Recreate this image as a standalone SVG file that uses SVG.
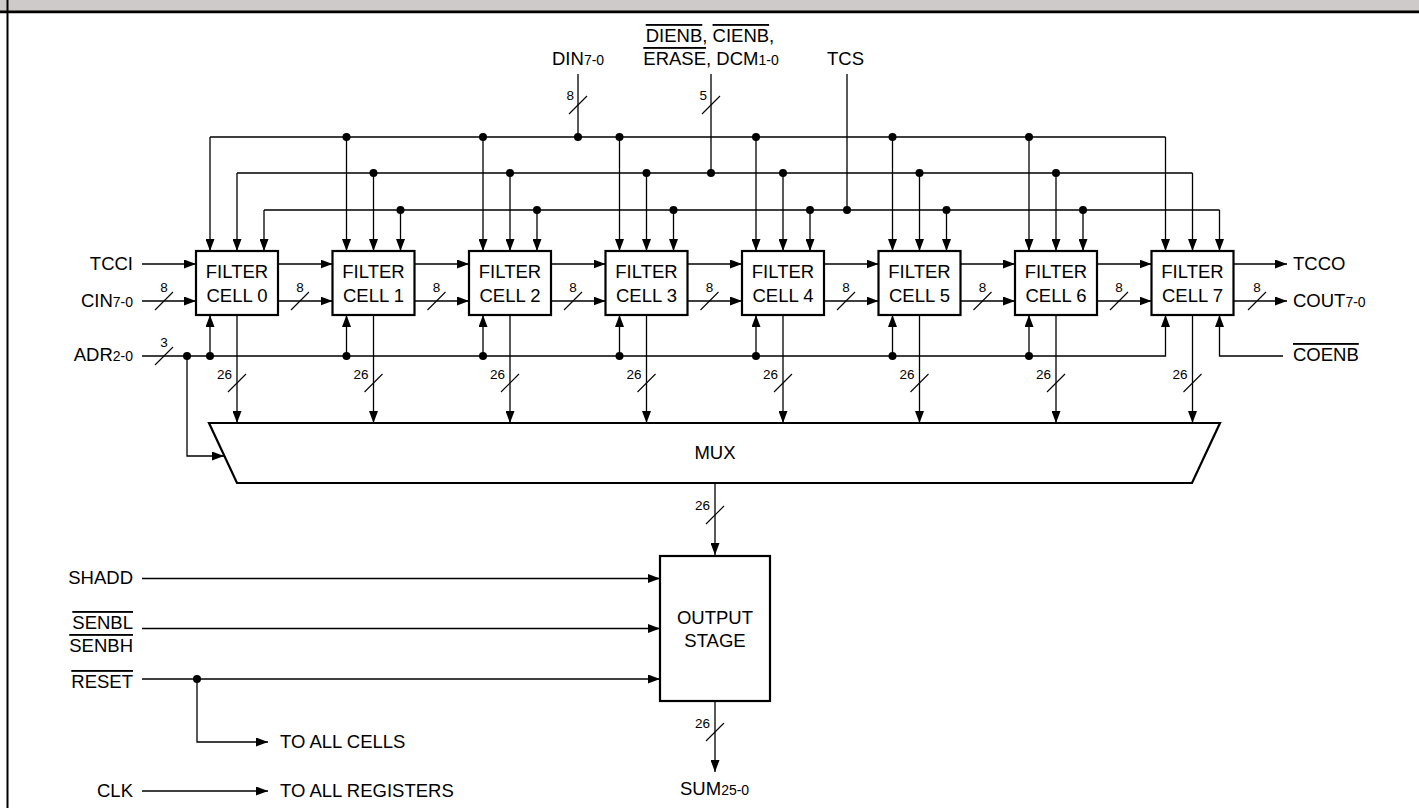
<svg xmlns="http://www.w3.org/2000/svg" width="1419" height="808" viewBox="0 0 1419 808">
<defs>
<marker id="ah" viewBox="0 0 12 9" markerWidth="12" markerHeight="9" refX="12" refY="4.5" orient="auto" markerUnits="userSpaceOnUse"><path d="M0,0 L12,4.5 L0,9 z" fill="#000"/></marker>
</defs>
<style>
text{font-family:"Liberation Sans",Arial,sans-serif;fill:#000}
.t{font-size:18.5px}
.s{font-size:14px}
.n{font-size:13.5px}
.c{text-anchor:middle}
.e{text-anchor:end}
.w{fill:none;stroke:#000;stroke-width:1.3}
.a{marker-end:url(#ah)}
.sl{stroke:#000;stroke-width:1.1}
.box{fill:#fff;stroke:#000;stroke-width:2.2}
.dot{fill:#000}
.ol{text-decoration:overline}
</style>
<rect x="0" y="0" width="1419" height="808" fill="#fff"/>
<g id="frame">
<rect x="0" y="0" width="1419" height="11" fill="#cdcac9"/>
<line x1="0" y1="11.8" x2="1419" y2="11.8" stroke="#000" stroke-width="2.8"/>
<line x1="7.5" y1="0" x2="7.5" y2="808" stroke="#000" stroke-width="2"/>
</g>
<g id="connectors">
<!-- top buses -->
<path class="w" d="M210,137 H1165.5 M237,173 H1192.5 M264,210 H1219.5"/>
<path class="w a" d="M210,137 V251"/><path class="w a" d="M346.5,137 V251"/><path class="w a" d="M483,137 V251"/><path class="w a" d="M619.5,137 V251"/><path class="w a" d="M756,137 V251"/><path class="w a" d="M892.5,137 V251"/><path class="w a" d="M1029,137 V251"/><path class="w a" d="M1165.5,137 V251"/>
<path class="w a" d="M237,173 V251"/><path class="w a" d="M373.5,173 V251"/><path class="w a" d="M510,173 V251"/><path class="w a" d="M646.5,173 V251"/><path class="w a" d="M783,173 V251"/><path class="w a" d="M919.5,173 V251"/><path class="w a" d="M1056,173 V251"/><path class="w a" d="M1192.5,173 V251"/>
<path class="w a" d="M264,210 V251"/><path class="w a" d="M400.5,210 V251"/><path class="w a" d="M537,210 V251"/><path class="w a" d="M673.5,210 V251"/><path class="w a" d="M810,210 V251"/><path class="w a" d="M946.5,210 V251"/><path class="w a" d="M1083,210 V251"/><path class="w a" d="M1219.5,210 V251"/>
<path class="w" d="M578,74 V137 M711,74 V173 M847,74 V210"/>
<line class="sl" x1="569" y1="114" x2="587" y2="96"/><text class="n e" x="574" y="100">8</text>
<line class="sl" x1="702" y1="114" x2="720" y2="96"/><text class="n e" x="707" y="100">5</text>
<g class="dot">
<circle cx="346.5" cy="137" r="4"/><circle cx="483" cy="137" r="4"/><circle cx="578" cy="137" r="4"/><circle cx="619.5" cy="137" r="4"/><circle cx="756" cy="137" r="4"/><circle cx="892.5" cy="137" r="4"/><circle cx="1029" cy="137" r="4"/>
<circle cx="373.5" cy="173" r="4"/><circle cx="510" cy="173" r="4"/><circle cx="646.5" cy="173" r="4"/><circle cx="711" cy="173" r="4"/><circle cx="783" cy="173" r="4"/><circle cx="919.5" cy="173" r="4"/><circle cx="1056" cy="173" r="4"/>
<circle cx="400.5" cy="210" r="4"/><circle cx="537" cy="210" r="4"/><circle cx="673.5" cy="210" r="4"/><circle cx="810" cy="210" r="4"/><circle cx="847" cy="210" r="4"/><circle cx="946.5" cy="210" r="4"/><circle cx="1083" cy="210" r="4"/>
</g>
<!-- left inputs -->
<path class="w a" d="M142,264 H196"/>
<path class="w a" d="M142,301 H196"/>
<line class="sl" x1="155" y1="310" x2="173" y2="292"/><text class="n c" x="164" y="292">8</text>
<path class="w a" d="M142,356 H1165.5 V315"/>
<line class="sl" x1="155" y1="365" x2="173" y2="347"/><text class="n c" x="164" y="347">3</text>
<path class="w a" d="M210,356 V315"/><path class="w a" d="M346.5,356 V315"/><path class="w a" d="M483,356 V315"/><path class="w a" d="M619.5,356 V315"/><path class="w a" d="M756,356 V315"/><path class="w a" d="M892.5,356 V315"/><path class="w a" d="M1029,356 V315"/>
<path class="w a" d="M187,356 V456 H224"/>
<g class="dot"><circle cx="187" cy="356" r="4"/><circle cx="210" cy="356" r="4"/><circle cx="346.5" cy="356" r="4"/><circle cx="483" cy="356" r="4"/><circle cx="619.5" cy="356" r="4"/><circle cx="756" cy="356" r="4"/><circle cx="892.5" cy="356" r="4"/><circle cx="1029" cy="356" r="4"/></g>
<!-- inter-cell -->
<path class="w a" d="M278,264 H332.5"/><path class="w a" d="M278,301 H332.5"/>
<path class="w a" d="M414.5,264 H469"/><path class="w a" d="M414.5,301 H469"/>
<path class="w a" d="M551,264 H605.5"/><path class="w a" d="M551,301 H605.5"/>
<path class="w a" d="M687.5,264 H742"/><path class="w a" d="M687.5,301 H742"/>
<path class="w a" d="M824,264 H878.5"/><path class="w a" d="M824,301 H878.5"/>
<path class="w a" d="M960.5,264 H1015"/><path class="w a" d="M960.5,301 H1015"/>
<path class="w a" d="M1097,264 H1151.5"/><path class="w a" d="M1097,301 H1151.5"/>
<g>
<line class="sl" x1="291" y1="310" x2="309" y2="292"/><text class="n c" x="300" y="292">8</text>
<line class="sl" x1="427.5" y1="310" x2="445.5" y2="292"/><text class="n c" x="436.5" y="292">8</text>
<line class="sl" x1="564" y1="310" x2="582" y2="292"/><text class="n c" x="573" y="292">8</text>
<line class="sl" x1="700.5" y1="310" x2="718.5" y2="292"/><text class="n c" x="709.5" y="292">8</text>
<line class="sl" x1="837" y1="310" x2="855" y2="292"/><text class="n c" x="846" y="292">8</text>
<line class="sl" x1="973.5" y1="310" x2="991.5" y2="292"/><text class="n c" x="982.5" y="292">8</text>
<line class="sl" x1="1110" y1="310" x2="1128" y2="292"/><text class="n c" x="1119" y="292">8</text>
</g>
<!-- right -->
<path class="w a" d="M1233.5,264 H1287"/>
<path class="w a" d="M1233.5,301 H1287"/>
<line class="sl" x1="1248" y1="310" x2="1266" y2="292"/><text class="n c" x="1257" y="292">8</text>
<path class="w a" d="M1283,356 H1219.5 V315"/>
<!-- cell outputs -->
<path class="w a" d="M237,315 V423"/><path class="w a" d="M373.5,315 V423"/><path class="w a" d="M510,315 V423"/><path class="w a" d="M646.5,315 V423"/><path class="w a" d="M783,315 V423"/><path class="w a" d="M919.5,315 V423"/><path class="w a" d="M1056,315 V423"/><path class="w a" d="M1192.5,315 V423"/>
<g>
<line class="sl" x1="228" y1="392" x2="246" y2="374"/><text class="n e" x="232" y="379">26</text>
<line class="sl" x1="364.5" y1="392" x2="382.5" y2="374"/><text class="n e" x="368.5" y="379">26</text>
<line class="sl" x1="501" y1="392" x2="519" y2="374"/><text class="n e" x="505" y="379">26</text>
<line class="sl" x1="637.5" y1="392" x2="655.5" y2="374"/><text class="n e" x="641.5" y="379">26</text>
<line class="sl" x1="774" y1="392" x2="792" y2="374"/><text class="n e" x="778" y="379">26</text>
<line class="sl" x1="910.5" y1="392" x2="928.5" y2="374"/><text class="n e" x="914.5" y="379">26</text>
<line class="sl" x1="1047" y1="392" x2="1065" y2="374"/><text class="n e" x="1051" y="379">26</text>
<line class="sl" x1="1183.5" y1="392" x2="1201.5" y2="374"/><text class="n e" x="1187.5" y="379">26</text>
</g>
<!-- mux out -->
<path class="w a" d="M715,483 V555"/>
<line class="sl" x1="706" y1="524" x2="724" y2="506"/><text class="n e" x="710" y="510">26</text>
<!-- output stage inputs -->
<path class="w a" d="M142,578.5 H660"/>
<path class="w a" d="M142,628.5 H660"/>
<path class="w a" d="M142,679 H660"/>
<path class="w a" d="M197,679 V742 H268"/>
<circle class="dot" cx="197" cy="679" r="4"/>
<path class="w a" d="M142,791 H268"/>
<path class="w a" d="M715,701 V772"/>
<line class="sl" x1="706" y1="741" x2="724" y2="723"/><text class="n e" x="710" y="728">26</text>
</g>
<g id="labels">
<text class="t" x="552" y="65">DIN<tspan class="s">7-0</tspan></text>
<text class="t c" x="710" y="42"><tspan class="ol">DIENB</tspan>, <tspan class="ol">CIENB</tspan>,</text>
<text class="t c" x="711" y="65"><tspan class="ol">ERASE</tspan>, DCM<tspan class="s">1-0</tspan></text>
<text class="t" x="827" y="65">TCS</text>
<text class="t e" x="133" y="270">TCCI</text>
<text class="t e" x="133" y="307">CIN<tspan class="s">7-0</tspan></text>
<text class="t e" x="133" y="361">ADR<tspan class="s">2-0</tspan></text>
<text class="t" x="1293" y="270">TCCO</text>
<text class="t" x="1293" y="307">COUT<tspan class="s">7-0</tspan></text>
<text class="t ol" x="1293" y="361">COENB</text>
<text class="t e" x="133" y="584">SHADD</text>
<text class="t e ol" x="133" y="629">SENBL</text>
<text class="t e ol" x="133" y="652">SENBH</text>
<text class="t e ol" x="133" y="688">RESET</text>
<text class="t" x="280" y="748">TO ALL CELLS</text>
<text class="t e" x="133" y="797">CLK</text>
<text class="t" x="280" y="797">TO ALL REGISTERS</text>
<text class="t" x="680" y="795">SUM<tspan class="s">25-0</tspan></text>
</g>
<g id="cell0"><rect class="box" x="196" y="251" width="82" height="64"/><text class="t c" x="237" y="278">FILTER</text><text class="t c" x="237" y="302">CELL 0</text></g>
<g id="cell1"><rect class="box" x="332.5" y="251" width="82" height="64"/><text class="t c" x="373.5" y="278">FILTER</text><text class="t c" x="373.5" y="302">CELL 1</text></g>
<g id="cell2"><rect class="box" x="469" y="251" width="82" height="64"/><text class="t c" x="510" y="278">FILTER</text><text class="t c" x="510" y="302">CELL 2</text></g>
<g id="cell3"><rect class="box" x="605.5" y="251" width="82" height="64"/><text class="t c" x="646.5" y="278">FILTER</text><text class="t c" x="646.5" y="302">CELL 3</text></g>
<g id="cell4"><rect class="box" x="742" y="251" width="82" height="64"/><text class="t c" x="783" y="278">FILTER</text><text class="t c" x="783" y="302">CELL 4</text></g>
<g id="cell5"><rect class="box" x="878.5" y="251" width="82" height="64"/><text class="t c" x="919.5" y="278">FILTER</text><text class="t c" x="919.5" y="302">CELL 5</text></g>
<g id="cell6"><rect class="box" x="1015" y="251" width="82" height="64"/><text class="t c" x="1056" y="278">FILTER</text><text class="t c" x="1056" y="302">CELL 6</text></g>
<g id="cell7"><rect class="box" x="1151.5" y="251" width="82" height="64"/><text class="t c" x="1192.5" y="278">FILTER</text><text class="t c" x="1192.5" y="302">CELL 7</text></g>
<g id="mux"><polygon class="box" points="209,423 1220,423 1192,483 237,483"/><text class="t c" x="715" y="459">MUX</text></g>
<g id="output-stage"><rect class="box" x="660" y="556" width="110" height="145"/><text class="t c" x="715" y="624">OUTPUT</text><text class="t c" x="715" y="647">STAGE</text></g>
</svg>
